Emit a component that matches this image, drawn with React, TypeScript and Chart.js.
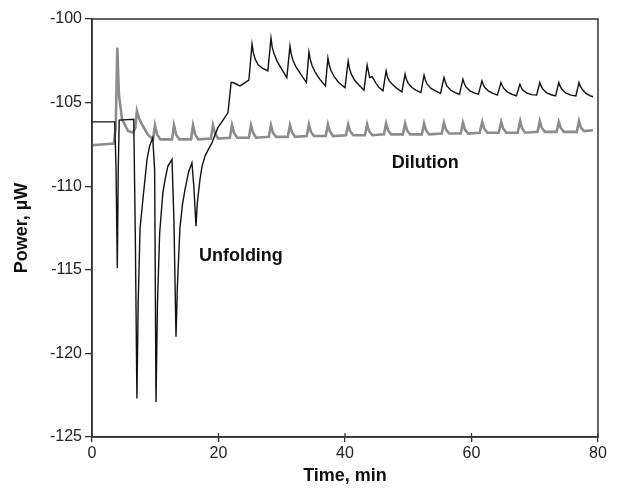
import React, { useEffect, useRef } from "react";
import { Chart, registerables } from "chart.js";
Chart.register(...registerables);

const FONT = '"Liberation Sans", Arial, Helvetica, sans-serif';

const xMin = 0;
const xMax = 80;
const xStep = 20;
const yMin = -125;
const yMax = -100;
const yStep = 5;
const xTitle = "Time, min";
const yTitle = "Power, \u00b5W";

// [time (min), power (µW)] — unfolding trace (black)
const unfoldingData: [number, number][] = [
  [0, -106.15], [3.6, -106.15], [3.8, -109], [4.0, -114.9], [4.15, -109], [4.3, -106.05],
  [6.6, -106.0], [6.85, -113], [7.1, -122.7], [7.3, -117], [7.6, -112.5], [8.1, -110.6],
  [8.7, -108.4], [9.1, -107.6], [9.6, -107.1], [9.9, -109], [10.12, -122.9], [10.35, -117], [10.7, -112.8],
  [11.2, -110.4], [11.6, -109.5], [12.0, -108.8], [12.65, -108.4], [12.95, -112], [13.28, -119.0], [13.5, -116],
  [13.9, -112.5], [14.3, -111.1], [14.7, -110.2], [15.3, -109.1], [15.8, -108.6], [16.1, -110], [16.44, -112.4],
  [16.65, -111], [17.07, -109.6], [17.4, -108.8], [17.87, -108.2], [18.4, -107.8], [18.97, -107.4], [19.9, -106.5], [20.8, -106.0],
  [21.5, -105.6], [21.8, -104.5], [22.0, -103.8], [22.3, -103.8], [23.4, -104.0], [24.8, -103.66],
  [25.3, -101.5], [25.5, -102.0], [25.8, -102.4], [26.3, -102.75], [27.0, -102.95], [27.8, -103.1],
  [28.3, -101.14], [28.5, -101.7], [28.8, -102.1], [29.3, -102.55], [30.0, -103.0], [30.8, -103.5],
  [31.3, -101.62], [31.5, -102.1], [31.8, -102.5], [32.3, -102.9], [33.0, -103.3], [33.9, -103.8],
  [34.3, -101.98], [34.5, -102.4], [34.8, -102.8], [35.3, -103.2], [36.0, -103.6], [36.9, -104.0],
  [37.3, -102.34], [37.5, -102.75], [37.8, -103.1], [38.3, -103.45], [39.0, -103.8], [40.0, -104.1],
  [40.5, -102.52], [40.7, -102.95], [41.0, -103.3], [41.5, -103.65], [42.2, -103.95], [43.0, -104.26],
  [43.5, -102.76], [43.9, -103.5], [44.3, -103.45], [44.9, -103.85], [45.4, -104.1], [46.0, -104.3],
  [46.5, -103.1], [46.7, -103.45], [47.0, -103.7], [47.6, -103.95], [48.2, -104.15], [49.0, -104.35],
  [49.5, -103.3], [49.7, -103.6], [50.0, -103.85], [50.6, -104.1], [51.2, -104.25], [52.0, -104.4],
  [52.5, -103.36], [52.7, -103.65], [53.0, -103.9], [53.6, -104.15], [54.3, -104.3], [55.1, -104.45],
  [55.65, -103.5], [55.85, -103.75], [56.1, -104.0], [56.7, -104.25], [57.4, -104.4], [58.1, -104.5],
  [58.65, -103.6], [58.85, -103.85], [59.1, -104.05], [59.7, -104.28], [60.4, -104.42], [61.1, -104.5],
  [61.65, -103.7], [61.85, -103.92], [62.1, -104.1], [62.7, -104.32], [63.4, -104.45], [64.1, -104.55],
  [64.65, -103.8], [64.85, -103.98], [65.1, -104.15], [65.7, -104.37], [66.4, -104.5], [67.1, -104.6],
  [67.65, -103.9], [67.85, -104.08], [68.1, -104.25], [68.7, -104.42], [69.5, -104.52], [70.3, -104.55],
  [70.8, -103.8], [71.0, -104.02], [71.3, -104.2], [71.9, -104.42], [72.6, -104.53], [73.3, -104.6],
  [73.8, -103.8], [74.0, -104.02], [74.3, -104.2], [74.9, -104.42], [75.7, -104.55], [76.5, -104.6],
  [77.0, -103.8], [77.2, -104.02], [77.5, -104.2], [78.1, -104.45], [78.7, -104.58], [79.2, -104.65],
];

// [time (min), power (µW)] — dilution trace (grey)
const dilutionData: [number, number][] = [
  [0, -107.55], [3.45, -107.45], [3.75, -106.5], [4.0, -101.7], [4.25, -104.5], [4.75, -106.0],
  [5.7, -106.7], [6.5, -106.8], [6.85, -106.5], [7.1, -105.5], [7.5, -106.0], [8.05, -106.4],
  [8.8, -106.9], [9.5, -107.15],
  [9.65, -107.2], [9.96, -106.35], [10.3, -106.9], [10.8, -107.2],
  [12.65, -107.2], [12.96, -106.35], [13.3, -106.9], [13.8, -107.2],
  [15.65, -107.2], [15.97, -106.35], [16.3, -106.9], [16.8, -107.2],
  [18.8, -107.15], [19.13, -106.35], [19.45, -106.85], [19.95, -107.15],
  [21.8, -107.1], [22.13, -106.35], [22.45, -106.8], [22.95, -107.1],
  [24.8, -107.1], [25.14, -106.35], [25.45, -106.8], [25.95, -107.1],
  [27.95, -107.05], [28.3, -106.35], [28.6, -106.8], [29.1, -107.05],
  [30.95, -107.05], [31.3, -106.35], [31.6, -106.75], [32.1, -107.05],
  [33.95, -107.0], [34.3, -106.3], [34.6, -106.75], [35.1, -107.0],
  [36.95, -107.0], [37.3, -106.3], [37.6, -106.7], [38.1, -107.0],
  [40.15, -106.95], [40.5, -106.3], [40.8, -106.7], [41.3, -106.95],
  [43.15, -106.95], [43.5, -106.3], [43.8, -106.7], [44.3, -106.95],
  [46.15, -106.9], [46.5, -106.25], [46.8, -106.65], [47.3, -106.9],
  [49.15, -106.9], [49.5, -106.25], [49.8, -106.65], [50.3, -106.9],
  [52.15, -106.9], [52.5, -106.25], [52.8, -106.65], [53.3, -106.9],
  [55.3, -106.85], [55.65, -106.2], [55.95, -106.6], [56.45, -106.85],
  [58.3, -106.85], [58.65, -106.2], [58.95, -106.6], [59.45, -106.85],
  [61.3, -106.8], [61.7, -106.15], [62.0, -106.55], [62.5, -106.8],
  [64.3, -106.8], [64.7, -106.15], [65.0, -106.55], [65.5, -106.8],
  [67.3, -106.8], [67.7, -106.1], [68.0, -106.55], [68.5, -106.8],
  [70.45, -106.75], [70.8, -106.1], [71.1, -106.5], [71.6, -106.75],
  [73.45, -106.75], [73.8, -106.15], [74.1, -106.5], [74.6, -106.75],
  [76.65, -106.75], [77.0, -106.1], [77.3, -106.5], [77.8, -106.7],
  [79.2, -106.65],
];

// text labels placed in data coordinates: [text, time, power]
const annotations: [string, number, number][] = [
  ["Unfolding", 16.9, -114.5],
  ["Dilution", 47.4, -108.9],
];

export default function App() {
  const ref = useRef<HTMLCanvasElement>(null);

  useEffect(() => {
    if (!ref.current) return;
    const framePlugin = {
      id: "frameAndLabels",
      afterDraw(chart: any) {
        const { ctx, chartArea, scales } = chart;
        const xs = scales.x;
        const ys = scales.y;
        ctx.save();
        ctx.strokeStyle = "#333";
        ctx.lineWidth = 1.5;
        ctx.strokeRect(chartArea.left, chartArea.top, chartArea.right - chartArea.left, chartArea.bottom - chartArea.top);
        // small inner tick marks on the x axis
        ctx.lineWidth = 1.3;
        xs.ticks.forEach((_t: any, i: number) => {
          const px = xs.getPixelForTick(i);
          ctx.beginPath();
          ctx.moveTo(px, chartArea.bottom);
          ctx.lineTo(px, chartArea.bottom - 4);
          ctx.stroke();
        });
        ctx.fillStyle = "#111";
        ctx.font = `bold 18px ${FONT}`;
        ctx.textAlign = "left";
        ctx.textBaseline = "alphabetic";
        annotations.forEach(([text, t, v]) => {
          ctx.fillText(text, xs.getPixelForValue(t), ys.getPixelForValue(v));
        });
        ctx.restore();
      },
    };

    const chart = new Chart(ref.current, {
      type: "scatter",
      data: {
        datasets: [
          {
            label: "Unfolding",
            data: unfoldingData.map(([x, y]) => ({ x, y })),
            showLine: true,
            borderColor: "#111",
            borderWidth: 1.4,
            pointRadius: 0,
            tension: 0,
          },
          {
            label: "Dilution",
            data: dilutionData.map(([x, y]) => ({ x, y })),
            showLine: true,
            borderColor: "#8c8c8c",
            borderWidth: 2.6,
            pointRadius: 0,
            tension: 0,
          },
        ],
      },
      options: {
        responsive: false,
        animation: false,
        devicePixelRatio: 1,
        layout: { padding: { top: 19, right: 21, left: 0, bottom: 0 } },
        plugins: { legend: { display: false }, tooltip: { enabled: false } },
        scales: {
          x: {
            type: "linear",
            min: xMin,
            max: xMax,
            ticks: { stepSize: xStep, font: { family: FONT, size: 16 }, color: "#222", padding: 2 },
            grid: { drawOnChartArea: false, tickLength: 5, color: "#333", lineWidth: 1.3 },
            border: { color: "#333", width: 1.5 },
            title: {
              display: true,
              text: xTitle,
              font: { family: FONT, size: 18, weight: "bold" },
              color: "#111",
              padding: { top: 0, bottom: 3 },
            },
            afterFit: (s: any) => {
              s.height = 53;
            },
          },
          y: {
            type: "linear",
            min: yMin,
            max: yMax,
            ticks: { stepSize: yStep, font: { family: FONT, size: 16 }, color: "#222", padding: 3 },
            grid: { drawOnChartArea: false, tickLength: 7, color: "#333", lineWidth: 1.3 },
            border: { color: "#333", width: 1.5 },
            title: {
              display: true,
              text: yTitle,
              font: { family: FONT, size: 18, weight: "bold" },
              color: "#111",
              padding: { top: 11, bottom: 0 },
            },
            afterFit: (s: any) => {
              s.width = 92;
            },
          },
        },
      } as any,
      plugins: [framePlugin],
    });
    return () => chart.destroy();
  }, []);

  return (
    <div style={{ position: "absolute", left: 0, top: 0, width: 619, height: 490, background: "#fff" }}>
      <canvas ref={ref} width={619} height={490} style={{ display: "block" }} />
    </div>
  );
}
